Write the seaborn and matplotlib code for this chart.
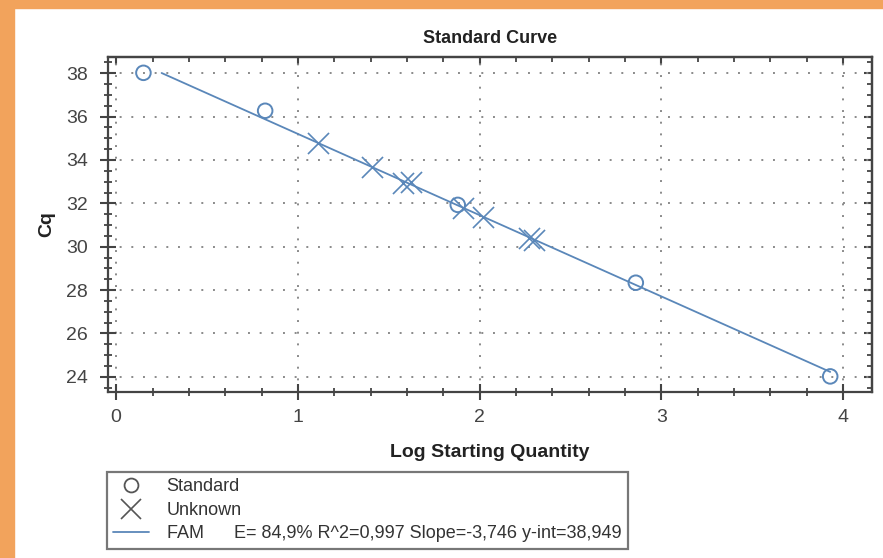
import matplotlib
matplotlib.use("Agg")
import matplotlib.pyplot as plt
import seaborn as sns
import pandas as pd
import numpy as np
from matplotlib.lines import Line2D
from matplotlib.patches import Rectangle
from matplotlib.ticker import MultipleLocator, NullFormatter

# ---- data ----
std_logq = [0.15, 0.82, 1.88, 2.86, 3.93]
std_cq = [38.02, 36.27, 31.93, 28.34, 24.02]
unk_logq = [1.11, 1.41, 1.58, 1.62, 1.91, 2.02, 2.27, 2.30]
unk_cq = [34.79, 33.66, 32.92, 33.00, 31.78, 31.38, 30.40, 30.31]
fit_slope = -3.746
fit_intercept = 38.949
fit_range = [0.25, 3.93]
legend_labels = ["Standard", "Unknown",
                 "FAM      E= 84,9% R^2=0,997 Slope=-3,746 y-int=38,949"]
x_ticks = [0, 1, 2, 3, 4]
y_ticks = [24, 26, 28, 30, 32, 34, 36, 38]

sns.set_style("white")
plt.rcParams['font.family'] = ['Liberation Sans', 'DejaVu Sans']

BLUE = "#5a87b9"
AX = "#444444"

std_df = pd.DataFrame({"x": std_logq, "y": std_cq})
unk_df = pd.DataFrame({"x": unk_logq, "y": unk_cq})
fit_df = pd.DataFrame({"x": fit_range,
                       "y": [fit_intercept + fit_slope * v for v in fit_range]})

fig = plt.figure(figsize=(8.83, 5.58), dpi=100)
ax = fig.add_axes([108/883, 1-392/558, (872-108)/883, (392-57)/558])

sns.lineplot(data=fit_df, x="x", y="y", ax=ax, color=BLUE, linewidth=1.3, zorder=3)
sns.scatterplot(data=std_df, x="x", y="y", ax=ax, marker="o", s=110,
                facecolor="none", edgecolor=BLUE, linewidth=1.4, zorder=4)
sns.scatterplot(data=unk_df, x="x", y="y", ax=ax, marker="x", s=230,
                color=BLUE, linewidth=1.2, zorder=4)

ax.set_xlim(-0.045, 4.16)
ax.set_ylim(23.3, 38.75)
ax.set_xticks(x_ticks)
ax.set_yticks(y_ticks)
ax.xaxis.set_minor_locator(MultipleLocator(0.2))
ax.yaxis.set_minor_locator(MultipleLocator(0.5))
ax.grid(True, which="major", color="#8a8a8a", linestyle=(0, (1, 5)), linewidth=1.4)
ax.set_axisbelow(True)

for sp in ax.spines.values():
    sp.set_color(AX)
    sp.set_linewidth(1.6)

ax.tick_params(which="major", direction="inout", length=11, width=1.5,
               color=AX, left=True, bottom=True, top=False, right=False,
               labelsize=14, labelcolor="#444444")
ax.tick_params(axis="y", which="major", pad=9)
ax.tick_params(axis="x", which="major", pad=7)
ax.tick_params(which="minor", direction="inout", length=6, width=1.3,
               color=AX, left=True, bottom=True, top=False, right=False)

# inward ticks on top and right sides
sec_top = ax.secondary_xaxis("top")
sec_top.set_xticks(x_ticks)
sec_top.xaxis.set_minor_locator(MultipleLocator(0.2))
sec_top.xaxis.set_major_formatter(NullFormatter())
sec_top.tick_params(which="both", top=True)
sec_top.tick_params(which="major", direction="in", length=6, width=1.5, color=AX)
sec_top.tick_params(which="minor", direction="in", length=3.5, width=1.3, color=AX)
sec_top.spines["top"].set_color(AX)
sec_top.spines["top"].set_linewidth(1.6)

sec_right = ax.secondary_yaxis("right")
sec_right.set_yticks(y_ticks)
sec_right.yaxis.set_minor_locator(MultipleLocator(0.5))
sec_right.yaxis.set_major_formatter(NullFormatter())
sec_right.tick_params(which="both", right=True)
sec_right.tick_params(which="major", direction="in", length=6, width=1.5, color=AX)
sec_right.tick_params(which="minor", direction="in", length=3.5, width=1.3, color=AX)
sec_right.spines["right"].set_color(AX)
sec_right.spines["right"].set_linewidth(1.6)

ax.set_title("Standard Curve", fontsize=13, fontweight="bold", color="#222222", pad=10)
ax.set_xlabel("Log Starting Quantity", fontsize=14, fontweight="bold", color="#222222", labelpad=13)
ax.set_ylabel("Cq", fontsize=14, fontweight="bold", color="#222222", labelpad=8)

handles = [
    Line2D([], [], marker="o", linestyle="none", markerfacecolor="none",
           markeredgecolor="#555555", markersize=10, markeredgewidth=1.3),
    Line2D([], [], marker="x", linestyle="none", color="#555555",
           markersize=14, markeredgewidth=1.2),
    Line2D([], [], color=BLUE, linewidth=1.3),
]
leg = fig.legend(handles, legend_labels, loc="upper left",
                 bbox_to_anchor=(107/883, 1-472/558), frameon=True,
                 fancybox=False, fontsize=13, labelspacing=0.36,
                 handlelength=2.0, handletextpad=0.95, borderpad=0.35,
                 borderaxespad=0)
leg.get_frame().set_edgecolor("#555555")
leg.get_frame().set_linewidth(1.6)
for t in leg.get_texts():
    t.set_color("#333333")

# orange frame
ORANGE = "#f2a35c"
fig.patches.append(Rectangle((0, 1-8/558), 1, 8/558, transform=fig.transFigure,
                             color=ORANGE, zorder=0))
fig.patches.append(Rectangle((0, 0), 14/883, 1, transform=fig.transFigure,
                             color=ORANGE, zorder=0))

fig.savefig("out.png", dpi=100)
